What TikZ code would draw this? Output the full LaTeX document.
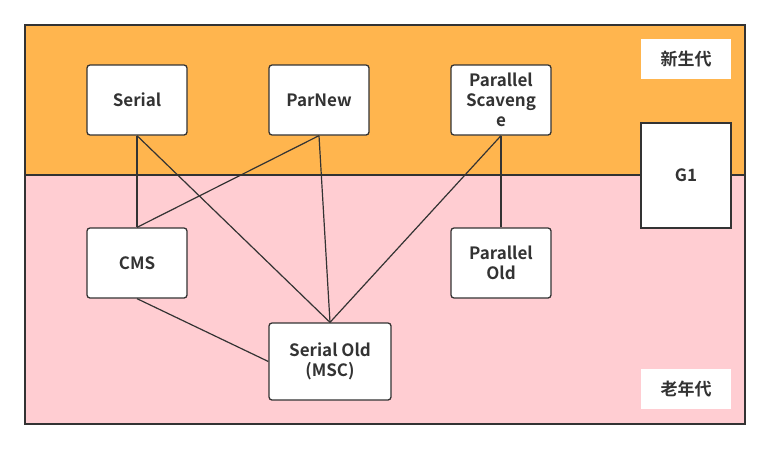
\documentclass[tikz,border=0pt]{standalone}
\usepackage{fontspec}
\setmainfont{Noto Sans CJK SC}[BoldFont={* Bold}]
\usepackage{tikz}
\pgfdeclarelayer{back}
\pgfdeclarelayer{bg}
\pgfsetlayers{back,bg,main}
\definecolor{younggen}{HTML}{FFB54E}
\definecolor{oldgen}{HTML}{FFCDD2}
\definecolor{ink}{HTML}{333333}
\tikzset{
    every node/.style={font=\bfseries\fontsize{17}{20}\selectfont, text=ink},
    gcbox/.style={rectangle, rounded corners=3pt, draw=ink, line width=1.3pt, fill=white, minimum width=100pt, minimum height=70pt, align=center, inner sep=0pt},
    genlabel/.style={rectangle, fill=white, minimum width=90pt, minimum height=40pt, inner sep=0pt},
    link/.style={draw=ink, line width=1.2pt}
}

\begin{document}
\begin{tikzpicture}[x=1pt, y=-1pt]
        \useasboundingbox (0,0) rectangle (770,450);
        \begin{pgfonlayer}{back}
                \draw[ink, line width=1.5pt, fill=oldgen] (25,175) rectangle (745,424);
                \draw[ink, line width=1.5pt, fill=younggen] (25,25) rectangle (745,175);
        \end{pgfonlayer}
        \node (serial) [gcbox] at (137,100) {Serial};
        \node (parnew) [gcbox] at (319,100) {ParNew};
        \node (scavenge) [gcbox] at (501,100) {Parallel\\Scaveng\\e};
        \node (cms) [gcbox] at (137,263) {CMS};
        \node (parold) [gcbox] at (501,263) {Parallel\\Old};
        \node (serialold) [gcbox, minimum width=122pt, minimum height=77pt] at (330,361.5) {Serial Old\\(MSC)};
        \node (g1) [gcbox, rounded corners=0pt, minimum width=90pt, minimum height=105pt] at (686,175.5) {G1};
        \node (young) [genlabel] at (686,59) {新生代};
        \node (old) [genlabel] at (686,389) {老年代};
        \begin{pgfonlayer}{bg}
                \draw[link] (serial.south) -- (cms.north);
                \draw[link] (serial.south) -- (serialold.north);
                \draw[link] (parnew.south) -- (cms.north);
                \draw[link] (parnew.south) -- (serialold.north);
                \draw[link] (scavenge.south) -- (serialold.north);
                \draw[link] (scavenge.south) -- (parold.north);
                \draw[link] (cms.south) -- (serialold.west);
        \end{pgfonlayer}
\end{tikzpicture}
\end{document}
